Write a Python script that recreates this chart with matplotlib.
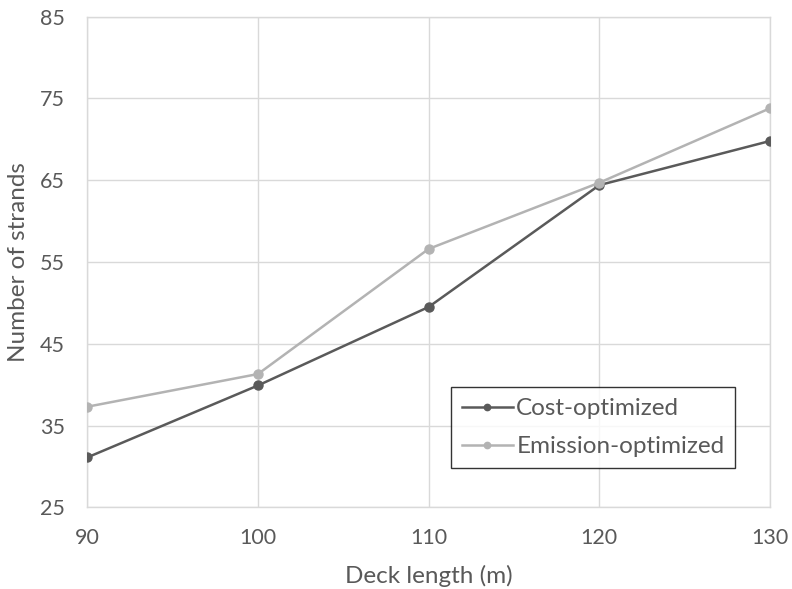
import matplotlib
matplotlib.use("Agg")
import matplotlib.pyplot as plt

deck_length = [90, 100, 110, 120, 130]
cost_optimized = [31.1, 39.9, 49.5, 64.4, 69.8]
emission_optimized = [37.3, 41.3, 56.6, 64.7, 73.8]
y_ticks = [25, 35, 45, 55, 65, 75, 85]
x_ticks = [90, 100, 110, 120, 130]

plt.rcParams['font.family'] = ['Lato', 'DejaVu Sans']
text_color = '#595959'
grid_color = '#d9d9d9'

fig = plt.figure(figsize=(7.92, 5.89), dpi=100)
ax = fig.add_axes([87.3/792, 1 - 507.3/589, (770 - 87.3)/792, (507.3 - 16.7)/589])

ax.plot(deck_length, cost_optimized, color='#5a5a5a', lw=1.8, marker='o', ms=6.5,
        label='Cost-optimized', zorder=3)
ax.plot(deck_length, emission_optimized, color='#b3b3b3', lw=1.8, marker='o', ms=6.5,
        label='Emission-optimized', zorder=3)

ax.set_xlim(90, 130)
ax.set_ylim(25, 85)
ax.set_xticks(x_ticks)
ax.set_yticks(y_ticks)
ax.grid(True, color=grid_color, lw=1)
ax.set_axisbelow(True)
for s in ax.spines.values():
    s.set_color(grid_color)
    s.set_linewidth(1)
ax.tick_params(length=0, labelsize=15.5, colors=text_color)
ax.tick_params(axis='x', pad=15)
ax.tick_params(axis='y', pad=16)

ax.set_xlabel('Deck length (m)', fontsize=17.5, color=text_color, labelpad=12)
ax.set_ylabel('Number of strands', fontsize=17.5, color=text_color, labelpad=8)

leg = ax.legend(loc='upper left', bbox_to_anchor=((450.7-87.3)/682.7, 1 - (387.3-16.7)/490.6),
                borderaxespad=0, frameon=True, fancybox=False, fontsize=17.5, handlelength=2.1,
                handletextpad=0.15, borderpad=0.45, labelspacing=0.7, markerscale=0.7)
leg.get_frame().set_edgecolor('#000000')
leg.get_frame().set_linewidth(1)
for t in leg.get_texts():
    t.set_color(text_color)

fig.savefig('out.png', dpi=100)
